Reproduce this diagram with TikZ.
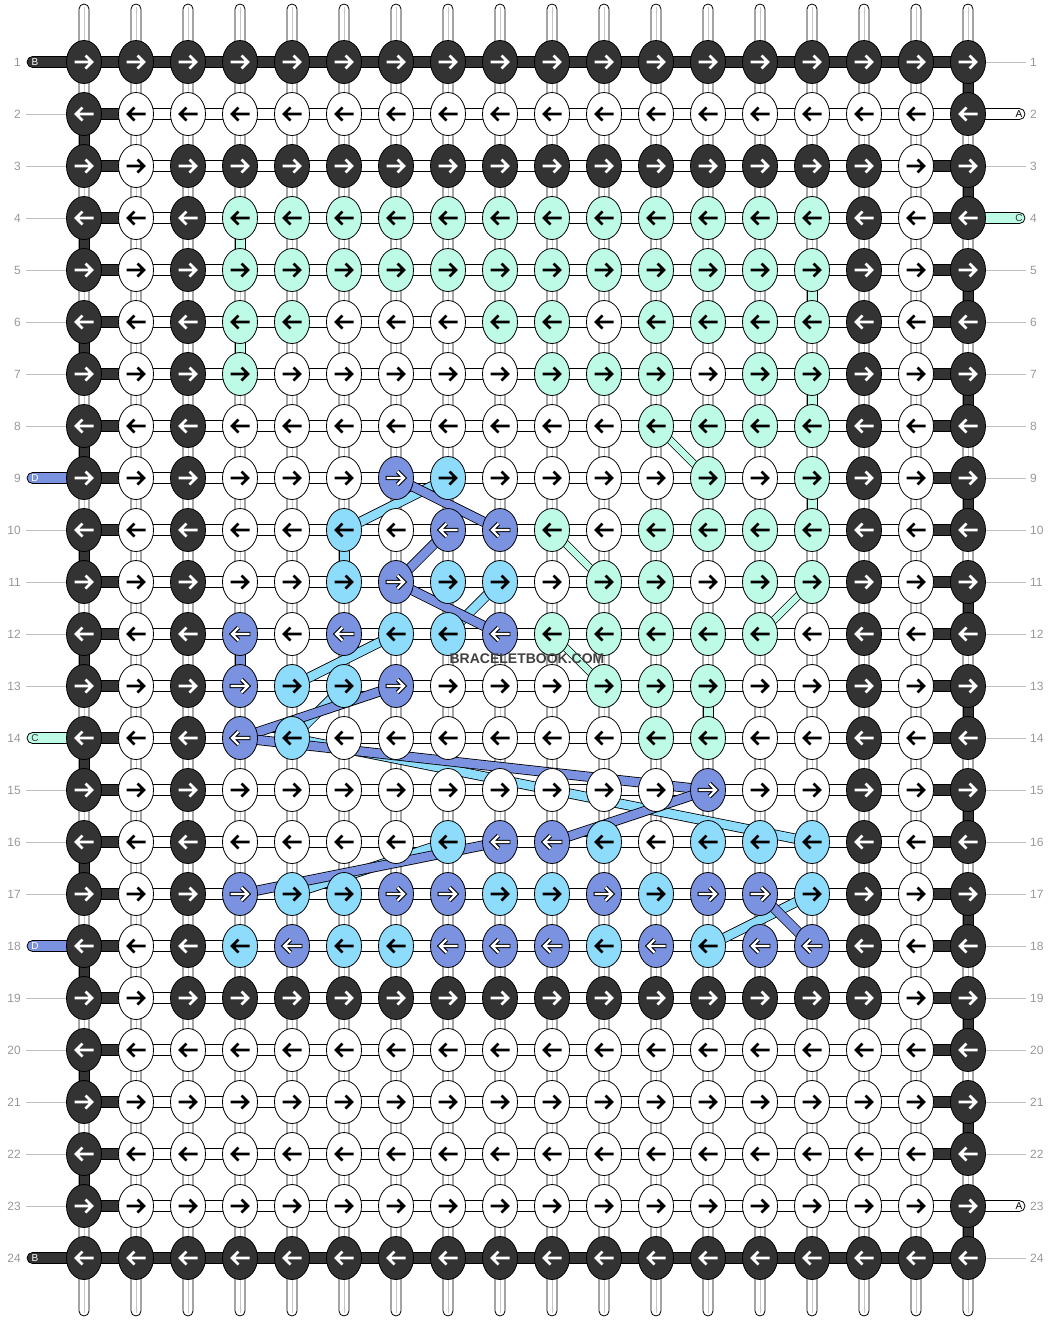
\documentclass[tikz,border=0pt]{standalone}
\usepackage{fontspec}
\setmainfont{Liberation Sans}
\definecolor{cK}{HTML}{333333}
\definecolor{cW}{HTML}{FFFFFF}
\definecolor{cM}{HTML}{BDFBE6}
\definecolor{cL}{HTML}{8EDCFC}
\definecolor{cB}{HTML}{7A92E0}
\definecolor{numgray}{HTML}{999999}
\newcommand\KX[1]{(84+52*(#1-1))}
\newcommand\KY[1]{(62+52*(#1-1))}
\tikzset{
  outl/.style={draw=black, line width=0.8pt},
  arrowline/.style={line width=2.6pt, line join=miter, line cap=butt},
  labtext/.style={font=\fontsize{10}{10}\selectfont, inner sep=0pt},
}
\newcommand\arrK{\draw[white, arrowline] (-9.5,0)--(7,0) (1.5,-6.5)--(8,0)--(1.5,6.5);}
\newcommand\arrW{\draw[black, arrowline] (-9.5,0)--(7,0) (1.5,-6.5)--(8,0)--(1.5,6.5);}
\newcommand\arrM{\arrW}
\newcommand\arrL{\arrW}
\newcommand\arrB{\draw[black, arrowline, line width=4.4pt] (-10.3,0)--(7,0) (1.5,-6.5)--(8,0)--(1.5,6.5);
  \draw[white, arrowline, line width=2.4pt] (-9.5,0)--(7,0) (1.5,-6.5)--(8,0)--(1.5,6.5);}
\newcommand\knot[3]{%
  \pgfmathsetmacro\kdir{isodd(#2) ? 1 : -1}%
  \draw[outl, fill=c#3] ({\KX{#1}},{\KY{#2}}) ellipse [x radius=17.5, y radius=21.5];
  \begin{scope}[shift={({\KX{#1}},{\KY{#2}})}, xscale=\kdir]
    \csname arr#3\endcsname
  \end{scope}}
\newcommand\krow[2]{\foreach \k [count=\c] in {#2}{\edef\tmp{\noexpand\knot{\c}{#1}{\k}}\tmp}}
\newcommand\hseg[3]{\draw[outl, fill=#3] ({\KX{#1}},{\KY{#2}-5.5}) rectangle ({\KX{#1}+52},{\KY{#2}+5.5});}
\newcommand\vseg[3]{\draw[outl, fill=#3] ({\KX{#1}-5},{\KY{#2}}) rectangle ({\KX{#1}+5},{\KY{#2}+52});}
\newcommand\flt[6]{\draw[black, line width=#6pt+1.6pt] ({\KX{#1}},{\KY{#2}}) -- ({\KX{#3}},{\KY{#4}});
  \draw[#5, line width=#6pt] ({\KX{#1}},{\KY{#2}}) -- ({\KX{#3}},{\KY{#4}});}
\newcommand\leftlab[4]{\draw[outl, fill=#2, rounded corners=5.5pt] (27,{\KY{#1}-5.5}) rectangle (84,{\KY{#1}+5.5});
  \node[labtext, text=#4] at (35,{\KY{#1}}) {#3};}
\newcommand\rightlab[4]{\draw[outl, fill=#2, rounded corners=5.5pt] (968,{\KY{#1}-5.5}) rectangle (1025,{\KY{#1}+5.5});
  \node[labtext, text=#4] at (1019,{\KY{#1}}) {#3};}
\begin{document}
\begin{tikzpicture}[x=1pt,y=-1pt]
\useasboundingbox (0,0) rectangle (1052,1320);
\fill[white] (0,0) rectangle (1052,1320);
% vertical strings
\foreach \c in {1,...,18}{
  \draw[outl, fill=white, rounded corners=5pt] ({\KX{\c}-5},4) rectangle ({\KX{\c}+5},1316);
  \draw[gray!45, line width=0.9pt] ({\KX{\c}},7) -- ({\KX{\c}},1313);
}
% row leader lines and numbers
\foreach \r in {1,...,24}{
  \node[font=\fontsize{12}{12}\selectfont, text=numgray, anchor=east, inner sep=0pt] at (21,{\KY{\r}}) {\r};
  \node[font=\fontsize{12}{12}\selectfont, text=numgray, anchor=west, inner sep=0pt] at (1030,{\KY{\r}}) {\r};
}
\foreach \r in {2,3,4,5,6,7,8,10,11,12,13,15,16,17,19,20,21,22,23}{
  \draw[gray!50, line width=0.8pt] (26,{\KY{\r}}) -- (66,{\KY{\r}});}
\foreach \r in {1,3,5,6,7,8,9,10,11,12,13,14,15,16,17,18,19,20,21,22,24}{
  \draw[gray!50, line width=0.8pt] (986,{\KY{\r}}) -- (1026,{\KY{\r}});}
% horizontal bars
\foreach \r in {1,...,24}{\foreach \c in {1,...,17}{\hseg{\c}{\r}{white}}}
\foreach \c in {1,...,17}{\hseg{\c}{1}{cK}\hseg{\c}{24}{cK}}
\foreach \r in {2,...,23}{\hseg{1}{\r}{cK}}
\foreach \r in {3,...,22}{\hseg{17}{\r}{cK}}
% edge turns
\foreach \r in {2,4,...,22}{\vseg{1}{\r}{cK}}
\foreach \r in {1,3,...,23}{\vseg{18}{\r}{cK}}
% mint turns
\vseg{4}{4}{cM}\vseg{4}{6}{cM}
\vseg{15}{5}{cM}\vseg{15}{7}{cM}\vseg{15}{9}{cM}
\vseg{13}{13}{cM}
% blue turns
\vseg{4}{12}{cB}
\vseg{6}{10}{cL}
% labels
\leftlab{1}{cK}{B}{white}
\leftlab{24}{cK}{B}{white}
\leftlab{9}{cB}{D}{white}
\leftlab{18}{cB}{D}{white}
\leftlab{14}{cM}{C}{cK}
\rightlab{2}{white}{A}{black}
\rightlab{23}{white}{A}{black}
\rightlab{4}{cM}{C}{cK}
% mint floats
\flt{12}{8}{13}{9}{cM}{6.5}
\flt{10}{10}{11}{11}{cM}{6.5}
\flt{15}{11}{14}{12}{cM}{6.5}
\flt{10}{12}{11}{13}{cM}{6.5}
% light floats
\flt{8}{9}{6}{10}{cL}{8.5}
\flt{9}{11}{8}{12}{cL}{8.5}
\flt{7}{12}{5}{13}{cL}{8.5}
\flt{6}{13}{5}{14}{cL}{8.5}
\flt{5}{14}{15}{16}{cL}{8.5}
\flt{8}{16}{5}{17}{cL}{8.5}
\flt{15}{17}{13}{18}{cL}{8.5}
% medium floats
\flt{7}{9}{9}{10}{cB}{8.5}
\flt{8}{10}{7}{11}{cB}{8.5}
\flt{7}{11}{9}{12}{cB}{8.5}
\flt{7}{13}{4}{14}{cB}{8.5}
\flt{4}{14}{13}{15}{cB}{8.5}
\flt{13}{15}{10}{16}{cB}{8.5}
\flt{9}{16}{4}{17}{cB}{8.5}
\flt{14}{17}{15}{18}{cB}{8.5}
% knots
\krow{1}{K,K,K,K,K,K,K,K,K,K,K,K,K,K,K,K,K,K}
\krow{2}{K,W,W,W,W,W,W,W,W,W,W,W,W,W,W,W,W,K}
\krow{3}{K,W,K,K,K,K,K,K,K,K,K,K,K,K,K,K,W,K}
\krow{4}{K,W,K,M,M,M,M,M,M,M,M,M,M,M,M,K,W,K}
\krow{5}{K,W,K,M,M,M,M,M,M,M,M,M,M,M,M,K,W,K}
\krow{6}{K,W,K,M,M,W,W,W,M,M,W,M,M,M,M,K,W,K}
\krow{7}{K,W,K,M,W,W,W,W,W,M,M,M,W,M,M,K,W,K}
\krow{8}{K,W,K,W,W,W,W,W,W,W,W,M,M,M,M,K,W,K}
\krow{9}{K,W,K,W,W,W,B,L,W,W,W,W,M,W,M,K,W,K}
\krow{10}{K,W,K,W,W,L,W,B,B,M,W,M,M,M,M,K,W,K}
\krow{11}{K,W,K,W,W,L,B,L,L,W,M,M,W,M,M,K,W,K}
\krow{12}{K,W,K,B,W,B,L,L,B,M,M,M,M,M,W,K,W,K}
\krow{13}{K,W,K,B,L,L,B,W,W,W,M,M,M,W,W,K,W,K}
\krow{14}{K,W,K,B,L,W,W,W,W,W,W,M,M,W,W,K,W,K}
\krow{15}{K,W,K,W,W,W,W,W,W,W,W,W,B,W,W,K,W,K}
\krow{16}{K,W,K,W,W,W,W,L,B,B,L,W,L,L,L,K,W,K}
\krow{17}{K,W,K,B,L,L,B,B,L,L,B,L,B,B,L,K,W,K}
\krow{18}{K,W,K,L,B,L,L,B,B,B,L,B,L,B,B,K,W,K}
\krow{19}{K,W,K,K,K,K,K,K,K,K,K,K,K,K,K,K,W,K}
\krow{20}{K,W,W,W,W,W,W,W,W,W,W,W,W,W,W,W,W,K}
\krow{21}{K,W,W,W,W,W,W,W,W,W,W,W,W,W,W,W,W,K}
\krow{22}{K,W,W,W,W,W,W,W,W,W,W,W,W,W,W,W,W,K}
\krow{23}{K,W,W,W,W,W,W,W,W,W,W,W,W,W,W,W,W,K}
\krow{24}{K,K,K,K,K,K,K,K,K,K,K,K,K,K,K,K,K,K}
% watermark
\node[font=\bfseries\fontsize{14}{14}\selectfont, text=black!75, inner sep=0pt] at (527,659) {BRACELETBOOK.COM};
\end{tikzpicture}
\end{document}
